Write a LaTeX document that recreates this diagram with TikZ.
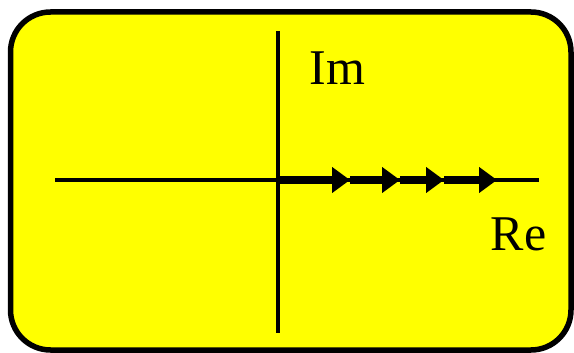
\documentclass[tikz,border=0pt]{standalone}
\usepackage{fontspec}
\setmainfont{Liberation Serif}
\usetikzlibrary{arrows.meta}
\definecolor{pureyellow}{RGB}{255,255,0}
\tikzset{
  frame/.style={draw=black, fill=pureyellow, line width=5.5pt, rounded corners=40pt},
  axis/.style={draw=black, line width=3.5pt},
  path/.style={draw=black, line width=8pt, -{Triangle[length=18pt,width=25pt]}},
  lbl/.style={font=\fontsize{50}{52}\selectfont, inner sep=0pt, anchor=base}
}
\begin{document}
\begin{tikzpicture}[x=1pt,y=-1pt]
\useasboundingbox (0,0) rectangle (574,353);
\path[frame] (10.5,12) rectangle (571,350);
\coordinate (vt) at (278,31);
\coordinate (vb) at (278,333);
\coordinate (hl) at (55,180);
\coordinate (hr) at (539,180);
\coordinate (o) at (278,180);
\coordinate (a1) at (350,180);
\coordinate (a2) at (400,180);
\coordinate (a3) at (444,180);
\coordinate (a4) at (497,180);
\draw[axis] (vt) -- (vb);
\draw[axis] (hl) -- (hr);
\draw[path] (o) -- (a1);
\draw[path] (a1) -- (a2);
\draw[path] (a2) -- (a3);
\draw[path] (a3) -- (a4);
\node[lbl] (im) at (337.5,85) {Im};
\node[lbl] (re) at (518.5,250) {Re};
\end{tikzpicture}
\end{document}
